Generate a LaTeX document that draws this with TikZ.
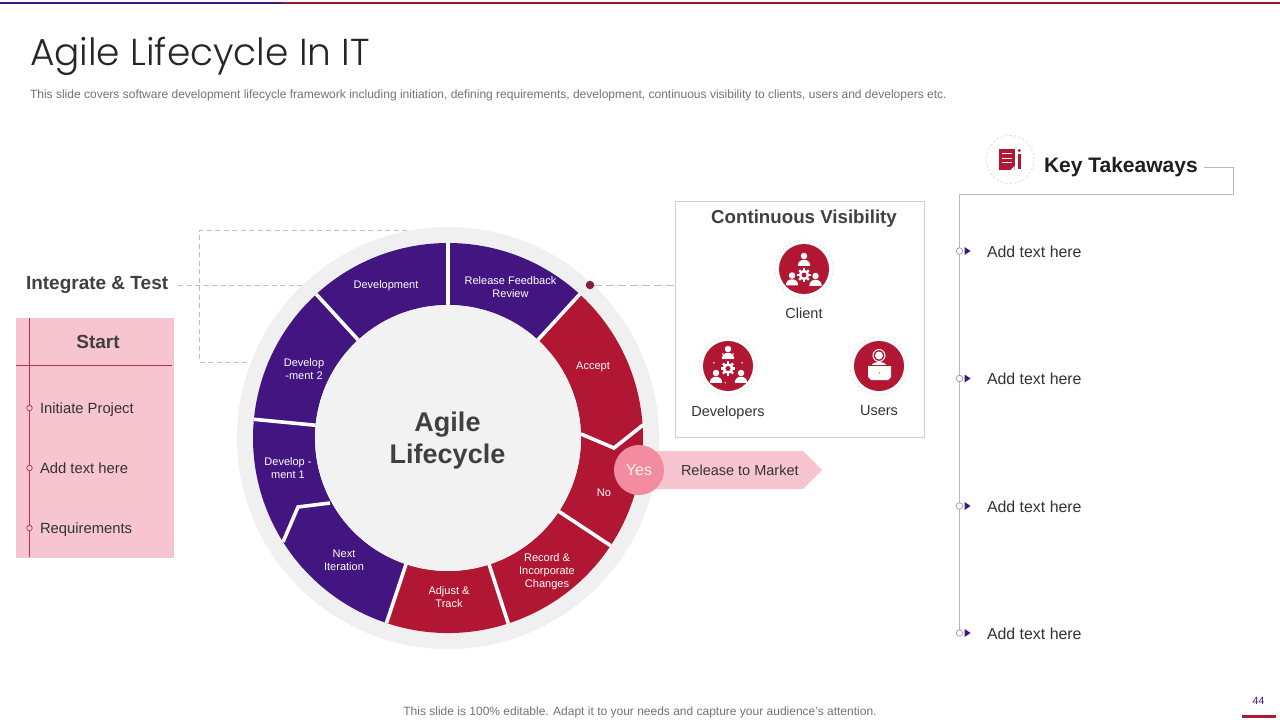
\documentclass[tikz,border=0pt]{standalone}
\usepackage{fontspec}
\setmainfont{Liberation Sans}
\newfontfamily\titlefont{Poppins Light}
\usetikzlibrary{calc,shapes.arrows}
\definecolor{agpurple}{HTML}{421580}
\definecolor{agred}{HTML}{B11733}
\definecolor{agpink}{HTML}{F7C5CF}
\definecolor{agrose}{HTML}{F28DA1}
\definecolor{agring}{HTML}{F0F0F1}
\definecolor{agdisc}{HTML}{F2F2F2}
\definecolor{agdark}{HTML}{404040}
\definecolor{agtext}{HTML}{333333}
\definecolor{agline}{HTML}{BDBDBD}
\definecolor{agmaroon}{HTML}{B8304F}
\definecolor{agteal}{HTML}{DCE8E8}
\newcommand{\agperson}[3]{%
  \begin{scope}[shift={(#1,#2)},scale=#3]
    \fill[white] (0,0) circle (3.4);
    \fill[white] (-6.5,10.5) .. controls (-6.5,6) and (-3.5,4) .. (0,4) .. controls (3.5,4) and (6.5,6) .. (6.5,10.5) -- cycle;
  \end{scope}}
\newcommand{\aggear}[3]{%
  \begin{scope}[shift={(#1,#2)},scale=#3]
    \foreach \a in {0,45,...,315}{\draw[white,line width=2.2pt] (\a:3) -- (\a:6.8);}
    \fill[white] (0,0) circle (5.2);
    \fill[agred] (0,0) circle (2.4);
  \end{scope}}
\tikzset{
  every node/.style={inner sep=0pt,outer sep=0pt},
  seglabel/.style={text=white,align=center,font=\fontsize{11}{13}\selectfont},
  seppart/.style={white,line width=3.6pt,line join=miter},
  dashlink/.style={agline,line width=0.8pt,dash pattern=on 5pt off 3.5pt},
  longdash/.style={agline,line width=0.9pt,dash pattern=on 8pt off 4pt},
  iconring/.style={draw=#1,line width=0.7pt,dash pattern=on 2.5pt off 2pt,fill=white,circle,minimum size=58pt},
  iconball/.style={fill=agred,circle,minimum size=50pt},
  itemtext/.style={anchor=west,text=agtext,font=\fontsize{15.9}{19}\selectfont},
  pinktext/.style={anchor=west,text=agtext,text height=11pt,text depth=3pt,font=\fontsize{14.8}{18}\selectfont},
  caption/.style={text=agtext,font=\fontsize{14.5}{17}\selectfont},
  bulletdot/.style={circle,draw=#1,fill=white,line width=0.7pt,minimum size=6.5pt},
}
\begin{document}
\begin{tikzpicture}[x=1pt,y=-1pt]
\useasboundingbox[fill=white] (0,0) rectangle (1280,720);
% top rule
\fill[agred!85!black] (0,2.2) rectangle (1280,4);
\fill[agpurple] (0,2.2) rectangle (282,4);
% heading
\node[anchor=west,text=black!85,font=\fontsize{37.5}{44}\titlefont] (title) at (30,56) {Agile Lifecycle In IT};
\node[anchor=west,text=black!55,font=\fontsize{12.02}{14}\selectfont] (sub) at (30,95) {This slide covers software development lifecycle framework including initiation, defining requirements, development, continuous visibility to clients, users and developers etc.};
% dashed links behind ring
\coordinate (boxA) at (407,230.5);
\coordinate (boxB) at (199,230.5);
\coordinate (boxC) at (199,362);
\coordinate (boxD) at (253,362);
\coordinate (itEnd) at (302,285);
\draw[dashlink] (boxA) -- (boxB) -- (boxC) -- (boxD);
\node[anchor=west,text=agdark,font=\bfseries\fontsize{19}{23}\selectfont] (integrate) at (26,285) {Integrate \& Test};
\draw[dashlink,shorten <=10pt] (integrate.east |- itEnd) -- (itEnd);
% ring
\begin{scope}[shift={(448,438)},y=1pt]
  \fill[agring] (0,0) circle (211);
  \fill[agpurple] (47.5:195) arc[start angle=47.5,end angle=251.6,radius=195] -- (251.6:133) arc[start angle=251.6,end angle=47.5,radius=133] -- cycle;
  \fill[agred] (251.6:195) arc[start angle=251.6,end angle=407.5,radius=195] -- (407.5:133) arc[start angle=407.5,end angle=251.6,radius=133] -- cycle;
  \draw[seppart] (90:133) -- (90:195);
  \draw[seppart] (47.5:133) -- (47.5:195);
  \draw[seppart] (132.5:133) -- (132.5:195);
  \draw[seppart] (174.5:133) -- (174.5:195);
  \draw[seppart] (251.6:133) -- (251.6:195);
  \draw[seppart] (288:133) -- (288:195);
  \draw[seppart] (-33.5:133) -- (-33.5:195);
  \draw[seppart] (-118,-65) -- (-150,-69) -- (-165,-104);
  \draw[seppart] (133,4) -- (166,-10) -- (195,13);
  \fill[agdisc] (0,0) circle (133);
\end{scope}
\node[text=agdark,align=center,font=\bfseries\fontsize{27}{32}\selectfont] (center) at (447.5,441) {Agile\\Lifecycle};
\node[seglabel] (s1) at (386,286) {Development};
\node[seglabel] (s2) at (510.5,287.5) {Release Feedback\\Review};
\node[seglabel] (s3) at (304,369.5) {Develop\\-ment 2};
\node[seglabel] (s4) at (288,468.5) {Develop -\\ment 1};
\node[seglabel] (s5) at (344,560.5) {Next\\Iteration};
\node[seglabel] (s6) at (449,597.5) {Adjust \&\\Track};
\node[seglabel] (s7) at (547,571.5) {Record \&\\Incorporate\\Changes};
\node[seglabel] (s8) at (604,493) {No};
\node[seglabel] (s9) at (593,367) {Accept};
% release ribbon
\fill[agpink] (639,451) -- (803,451) -- (822,470) -- (803,489) -- (639,489) -- cycle;
\node[circle,fill=agrose,minimum size=50pt,text=white!85!agrose,font=\fontsize{16}{19}\selectfont] (yes) at (639,470) {Yes};
\node[anchor=west,text=agtext,font=\fontsize{14.5}{17}\selectfont] (market) at (681,470) {Release to Market};
% visibility box
\node[draw=black!18,line width=0.9pt,fill=white,minimum width=249.5pt,minimum height=236pt] (cvbox) at (800,319) {};
\node[circle,fill=agmaroon!70!black,minimum size=8.5pt] (dot) at (590,285) {};
\draw[longdash] (dot) -- (cvbox.west |- dot);
\node[text=agdark,font=\bfseries\fontsize{18.7}{23}\selectfont] (cvtitle) at (804,219) {Continuous Visibility};
\node[iconring=agteal] (clientring) at (804,269) {};
\node[iconball] (client) at (804,269) {};
\node[iconring=agteal] (devring) at (728,366) {};
\node[iconball] (dev) at (728,366) {};
\node[iconring=agteal] (usrring) at (879,366) {};
\node[iconball] (usr) at (879,366) {};
\node[caption] (clientlab) at (804,313) {Client};
\node[caption] (devlab) at (728,412.5) {Developers};
\node[caption] (usrlab) at (879,411) {Users};
% client icon
\agperson{804}{256}{0.95}
\agperson{792}{275.5}{0.95}
\agperson{815.5}{276}{0.95}
\aggear{804}{275}{1}
% developers icon
\agperson{728}{349}{0.95}
\agperson{716}{373}{0.95}
\agperson{741}{373}{0.95}
\aggear{728}{368.5}{1.05}
\foreach \a in {20,60,100,140,200,250,290,340}{\fill[white] ($(728,368)+(\a:15)$) circle (0.8);}
% users icon
\draw[white,line width=1pt] (879,355.5) circle (6);
\fill[white] (879,355.5) circle (4);
\fill[white] (869,372) .. controls (870,364) and (874,362) .. (879,362) .. controls (884,362) and (888,364) .. (889,372) -- cycle;
\fill[white] (868,366) -- (891,366) -- (891,377) -- (888,380) -- (871,380) -- (868,377) -- cycle;
\draw[agred,line width=0.6pt] (868,365.7) -- (891,365.7);
\fill[agred] (879.5,373) circle (0.7);
% start panel
\fill[agpink] (16,318) rectangle (174,558);
\coordinate (vTop) at (29.5,318);
\coordinate (vBot) at (29.5,557);
\coordinate (hL) at (16,365);
\coordinate (hR) at (172,365);
\draw[agmaroon,line width=0.9pt] (vTop) -- (vBot);
\draw[agmaroon,line width=0.9pt] (hL) -- (hR);
\node[text=agdark,font=\bfseries\fontsize{19}{23}\selectfont] (start) at (98,341.5) {Start};
\node[bulletdot=agmaroon,fill=agpink,minimum size=5.5pt] (p1) at (29.5,408) {};
\node[bulletdot=agmaroon,fill=agpink,minimum size=5.5pt] (p2) at (29.5,468) {};
\node[bulletdot=agmaroon,fill=agpink,minimum size=5.5pt] (p3) at (29.5,528) {};
\node[pinktext] (t1) at (40,409.3) {Initiate Project};
\node[pinktext] (t2) at (40,469.3) {Add text here};
\node[pinktext] (t3) at (40,529.3) {Requirements};
% key takeaways
\node[iconring=black!15,minimum size=48pt] (keyicon) at (1010,159.5) {};
\fill[agred] (999,149) rectangle (1014.5,170);
\draw[white,line width=1pt] (1002,153.5) -- (1012,153.5) (1002,158) -- (1012,158) (1002,162.5) -- (1012,162.5);
\fill[white] (1014.5,170) -- (1010.5,170) -- (1014.5,166) -- cycle;
\fill[agred] (1018,154) rectangle (1020.5,169);
\fill[agred] (1019.2,150.5) circle (1.6);
\node[anchor=west,text=black!88,font=\bfseries\fontsize{21}{25}\selectfont] (key) at (1044,167) {Key Takeaways};
\coordinate (kA) at (1204,167.5);
\coordinate (kB) at (1233.5,167.5);
\coordinate (kC) at (1233.5,194);
\coordinate (kD) at (959.5,194);
\coordinate (kE) at (959.5,633);
\draw[black!28,line width=0.9pt] (kA) -- (kB) -- (kC) -- (kD) -- (kE);
\foreach \n/\y in {a/251,b/378.5,c/506,d/633}{
  \node[bulletdot=agpurple!45!black!45] (b\n) at (959.5,\y) {};
  \fill[agpurple] (964.5,\y-4) -- (970.5,\y) -- (964.5,\y+4) -- cycle;
  \node[itemtext] (k\n) at (987,\y+0.5) {Add text here};
}
% footer
\node[text=black!55,font=\fontsize{12}{14}\selectfont] (foot) at (640,712) {This slide is 100\% editable. Adapt it to your needs and capture your audience's attention.};
\node[text=agpurple,font=\fontsize{10.5}{12}\selectfont] (page) at (1258.5,700.5) {44};
\fill[agred] (1242,715) rectangle (1276,718);
\end{tikzpicture}
\end{document}
